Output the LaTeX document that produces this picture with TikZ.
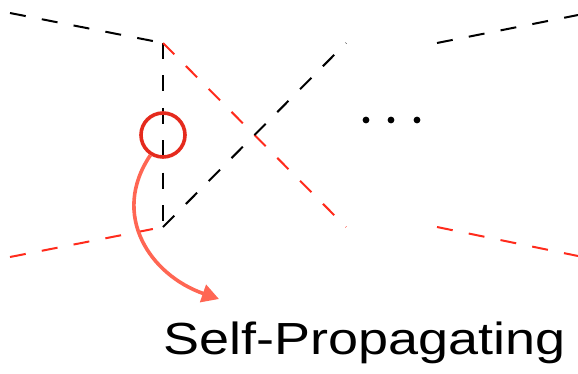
\documentclass[tikz,border=0pt]{standalone}
\usepackage{fontspec}
\usepackage{xcolor}
\usetikzlibrary{arrows.meta,positioning}
\newfontfamily\captionfont[FakeStretch=1.2]{Liberation Sans}
\definecolor{edgered}{HTML}{FF2B1C}
\definecolor{ringred}{HTML}{E52A1D}
\definecolor{flowred}{HTML}{FF6653}
\tikzset{
    blackedge/.style={draw=black, line width=2pt, dash pattern=on 16pt off 16.4pt},
    rededge/.style={draw=edgered, line width=2pt, dash pattern=on 16pt off 16.4pt},
    ring/.style={
        circle, draw=ringred, line width=3.6pt,
        minimum size=44pt, inner sep=0pt
    },
    flow/.style={-{Triangle[length=17pt,width=18pt]}, draw=flowred, line width=3.6pt},
    caption/.style={font=\captionfont\fontsize{45}{50}\selectfont, inner sep=0pt}
}
\begin{document}
\begin{tikzpicture}[x=1pt,y=-1pt]
\useasboundingbox (0,0) rectangle (578,373);

% Crossing points
\coordinate (inL)   at (10,13);
\coordinate (topA)  at (163,43);
\coordinate (botA)  at (163,227);
\coordinate (redL)  at (10,257);
\coordinate (topB)  at (346,43);
\coordinate (botB)  at (346,227);
\coordinate (topC)  at (437,43);
\coordinate (outR)  at (578,15);
\coordinate (botC)  at (437,227);
\coordinate (redR)  at (578,256);

% Dashed edges
\draw[blackedge] (inL)  -- (topA);
\draw[blackedge] (topA) -- (botA);
\draw[rededge]   (topA) -- (botB);
\draw[blackedge] (botA) -- (topB);
\draw[rededge]   (redL) -- (botA);
\draw[blackedge] (topC) -- (outR);
\draw[rededge]   (botC) -- (redR);

% Ellipsis
\foreach \x in {366,391,417}
    \fill (\x,120) circle (3.4pt);

% Highlight and label
\node[ring] (spot) at (163,135) {};
\node[caption, anchor=base west] (label) at (163,354) {Self-Propagating};
\coordinate (tip) at (219,299);
\draw[flow] (spot.238) .. controls (110,215) and (150,275) .. (tip);

\end{tikzpicture}
\end{document}
